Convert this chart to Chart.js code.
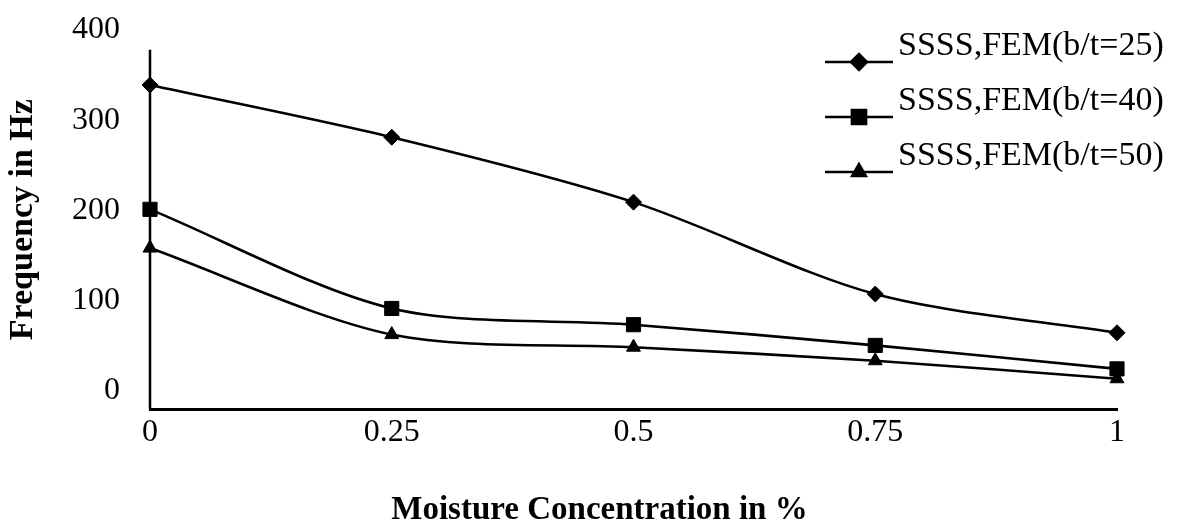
<!DOCTYPE html>
<html>
<head>
<meta charset="utf-8">
<script src="https://cdn.jsdelivr.net/npm/chart.js@4.4.1/dist/chart.umd.min.js"></script>
<style>
  html, body { margin: 0; padding: 0; background: #fff; }
  #wrap { width: 1177px; height: 530px; }
</style>
</head>
<body>
<div id="wrap"><canvas id="freqChart"></canvas></div>
<script>
const moistureLevels = ['0', '0.25', '0.5', '0.75', '1'];
const freqBt25 = [339, 281, 209, 107, 64];
const freqBt40 = [201, 91, 73, 50, 24];
const freqBt50 = [158, 62, 48, 33, 13];
const yTickValues = [0, 100, 200, 300, 400];
const seriesNames = ['SSSS,FEM(b/t=25)', 'SSSS,FEM(b/t=40)', 'SSSS,FEM(b/t=50)'];
const yAxisTop = 378; // where the drawn y axis line stops

const serif = 'Liberation Serif, Times New Roman, serif';

function makeSet(label, data, style, radius) {
  return {
    label: label,
    data: data,
    borderColor: '#000',
    backgroundColor: '#000',
    borderWidth: 2.6,
    pointStyle: style,
    pointRadius: radius,
    pointBorderWidth: 1,
    tension: 0.3,
    fill: false,
    clip: false
  };
}

// y axis line (shorter than the tick range, like the original)
const yAxisLine = {
  id: 'yAxisLine',
  afterDraw(chart) {
    const c = chart.ctx;
    const y = chart.scales.y;
    c.save();
    c.strokeStyle = '#000';
    c.lineWidth = 2.5;
    c.beginPath();
    c.moveTo(chart.chartArea.left, y.getPixelForValue(yAxisTop));
    c.lineTo(chart.chartArea.left, chart.chartArea.bottom);
    c.stroke();
    c.restore();
  }
};

// legend drawn by hand: line sample sits a bit below its text
const sideLegend = {
  id: 'sideLegend',
  afterDraw(chart) {
    const c = chart.ctx;
    c.save();
    chart.data.datasets.forEach((ds, i) => {
      const ly = 62 + i * 55;
      c.strokeStyle = '#000';
      c.lineWidth = 2.5;
      c.beginPath();
      c.moveTo(825, ly);
      c.lineTo(893, ly);
      c.stroke();
      Chart.helpers.drawPoint(c, {
        pointStyle: ds.pointStyle, radius: ds.pointRadius, rotation: 0, borderWidth: 1
      }, 859, ly);
      c.fillStyle = '#000';
      c.font = '34px ' + serif;
      c.textAlign = 'left';
      c.textBaseline = 'middle';
      c.fillText(ds.label, 898, ly - 16);
    });
    c.restore();
  }
};

new Chart(document.getElementById('freqChart'), {
  type: 'line',
  data: {
    labels: moistureLevels,
    datasets: [
      makeSet(seriesNames[0], freqBt25, 'rectRot', 8),
      makeSet(seriesNames[1], freqBt40, 'rect', 10),
      makeSet(seriesNames[2], freqBt50, 'triangle', 8)
    ]
  },
  options: {
    responsive: true,
    maintainAspectRatio: false,
    animation: false,
    layout: { padding: { top: 30, right: 0, left: 22, bottom: 0 } },
    plugins: {
      legend: { display: false },
      tooltip: { enabled: false },
      title: {
        display: true,
        position: 'bottom',
        text: 'Moisture Concentration in %',
        color: '#000',
        font: { family: serif, size: 33, weight: 'bold' },
        padding: { top: 0, bottom: 0 }
      }
    },
    scales: {
      x: {
        offset: false,
        grid: { display: false, drawTicks: false },
        border: { display: true, color: '#000', width: 3 },
        ticks: { color: '#000', padding: 4, font: { family: serif, size: 32 }, maxRotation: 0 },
        afterFit(scale) { scale.height = 81; }
      },
      y: {
        min: -21,
        max: 400,
        grid: { display: false, drawTicks: false },
        border: { display: false },
        ticks: { color: '#000', padding: 30, font: { family: serif, size: 32 } },
        afterBuildTicks(scale) { scale.ticks = yTickValues.map(v => ({ value: v })); },
        afterFit(scale) {
          scale.width = 128;
          scale.paddingTop = 0;
          scale.paddingBottom = 0;
        },
        title: {
          display: true,
          text: 'Frequency in Hz',
          color: '#000',
          font: { family: serif, size: 34, weight: 'bold' },
          padding: { top: -19, bottom: 4 }
        }
      },
      // empty right-hand axis, only there to keep space on the right
      yRight: {
        position: 'right',
        grid: { display: false, drawTicks: false },
        border: { display: false },
        ticks: { display: false },
        afterFit(scale) {
          scale.width = 60;
          scale.paddingTop = 0;
          scale.paddingBottom = 0;
        }
      }
    }
  },
  plugins: [yAxisLine, sideLegend]
});
</script>
</body>
</html>
